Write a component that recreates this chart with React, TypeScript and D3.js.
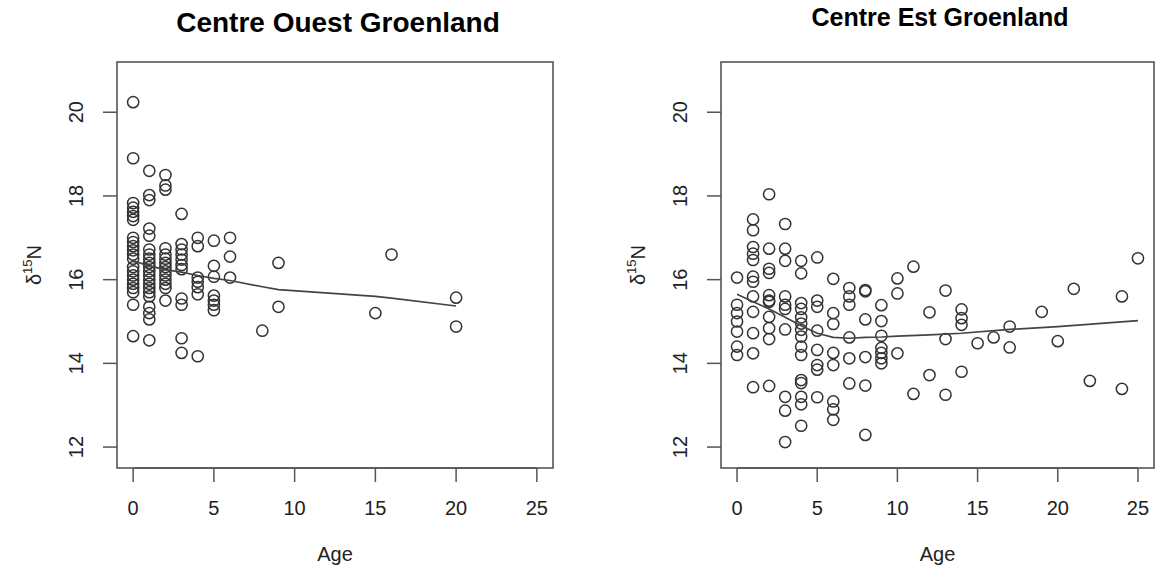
import React from "react";
import * as d3 from "d3";

// Centre Ouest Groenland: [age, d15N]
const westAges = [0, 0, 0, 0, 0, 0, 0, 0, 0, 0, 0, 0, 0, 0, 0, 0, 0, 0, 0, 0, 0, 0,
  1, 1, 1, 1, 1, 1, 1, 1, 1, 1, 1, 1, 1, 1, 1, 1, 1, 1, 1, 1, 1,
  2, 2, 2, 2, 2, 2, 2, 2, 2, 2, 2, 2, 2, 2,
  3, 3, 3, 3, 3, 3, 3, 3, 3, 3, 3,
  4, 4, 4, 4, 4, 4, 4,
  5, 5, 5, 5, 5, 5, 5,
  6, 6, 6,
  8, 9, 9, 15, 16, 20, 20];
const westN = [20.24, 18.9, 17.83, 17.72, 17.62, 17.52, 17.43, 17.0, 16.9, 16.8, 16.7, 16.6, 16.5, 16.3, 16.2, 16.1, 16.0, 15.9, 15.8, 15.7, 15.4, 14.65,
  18.6, 18.02, 17.9, 17.22, 17.05, 16.72, 16.6, 16.5, 16.4, 16.3, 16.2, 16.1, 16.0, 15.9, 15.8, 15.7, 15.6, 15.35, 15.2, 15.05, 14.55,
  18.5, 18.25, 18.15, 16.75, 16.6, 16.5, 16.4, 16.3, 16.2, 16.1, 16.0, 15.9, 15.8, 15.5,
  17.57, 16.85, 16.72, 16.6, 16.48, 16.35, 16.25, 15.55, 15.4, 14.6, 14.25,
  17.0, 16.8, 16.05, 15.95, 15.82, 15.65, 14.17,
  16.93, 16.33, 16.07, 15.62, 15.5, 15.4, 15.27,
  17.0, 16.55, 16.05,
  14.78, 16.4, 15.35, 15.2, 16.6, 15.57, 14.88];
const westSmoothAge = [0, 1, 2, 3, 4, 5, 6, 8, 9, 15, 16, 20];
const westSmoothN = [16.45, 16.33, 16.24, 16.18, 16.1, 16.03, 15.98, 15.83, 15.76, 15.6, 15.56, 15.37];

// Centre Est Groenland: [age, d15N]
const eastAges = [0, 0, 0, 0, 0, 0, 0,
  1, 1, 1, 1, 1, 1, 1, 1, 1, 1, 1, 1,
  2, 2, 2, 2, 2, 2, 2, 2, 2, 2, 2,
  3, 3, 3, 3, 3, 3, 3, 3, 3, 3,
  4, 4, 4, 4, 4, 4, 4, 4, 4, 4, 4, 4, 4, 4, 4,
  5, 5, 5, 5, 5, 5, 5, 5,
  6, 6, 6, 6, 6, 6, 6, 6,
  7, 7, 7, 7, 7, 7,
  8, 8, 8, 8, 8, 8,
  9, 9, 9, 9, 9, 9, 9,
  10, 10, 10, 11, 11, 12, 12, 13, 13, 13, 14, 14, 14, 14,
  15, 16, 17, 17, 19, 20, 21, 22, 24, 24, 25];
const eastN = [16.05, 15.4, 15.2, 15.0, 14.76, 14.4, 14.2,
  17.44, 17.18, 16.78, 16.62, 16.47, 16.07, 15.95, 15.6, 15.23, 14.72, 14.24, 13.43,
  18.04, 16.74, 16.26, 16.16, 15.63, 15.5, 15.47, 15.11, 14.84, 14.58, 13.46,
  17.33, 16.74, 16.45, 15.6, 15.4, 15.3, 14.81, 13.2, 12.87, 12.12,
  16.45, 16.15, 15.44, 15.3, 15.1, 14.95, 14.8, 14.64, 14.4, 14.2, 13.6, 13.53, 13.2, 13.02, 12.51,
  16.53, 15.5, 15.35, 14.78, 14.32, 13.96, 13.85, 13.19,
  16.02, 15.2, 14.94, 14.25, 13.96, 13.09, 12.9, 12.65,
  15.8, 15.6, 15.4, 14.62, 14.12, 13.52,
  15.75, 15.72, 15.05, 14.15, 13.47, 12.29,
  15.39, 15.01, 14.66, 14.37, 14.25, 14.12, 14.0,
  16.03, 15.67, 14.24, 16.31, 13.27, 15.22, 13.72, 15.74, 14.58, 13.25, 15.29, 15.08, 14.92, 13.8,
  14.48, 14.62, 14.88, 14.38, 15.23, 14.53, 15.78, 13.58, 15.6, 13.39, 16.51];
const eastSmoothAge = [0, 1, 2, 3, 4, 5, 6, 7, 8, 9, 10, 12, 14, 17, 20, 25];
const eastSmoothN = [15.65, 15.47, 15.3, 15.1, 14.9, 14.72, 14.62, 14.6, 14.62, 14.63, 14.65, 14.68, 14.72, 14.81, 14.88, 15.02];

const xTicks = [0, 5, 10, 15, 20, 25];
const yTicks = [12, 14, 16, 18, 20];
const xLimits = [-1, 26];
const yLimits = [11.5, 21.2];

const FONT = "'Liberation Sans', Arial, Helvetica, sans-serif";

type PanelProps = {
  title: string;
  ages: number[];
  values: number[];
  smoothAge: number[];
  smoothN: number[];
  left: number;
  right: number;
  titleY: number;
  titleX: number;
  titleSize: number;
};

function Panel({ title, ages, values, smoothAge, smoothN, left, right, titleY, titleX, titleSize }: PanelProps) {
  const top = 62;
  const bottom = 468;
  const x = d3.scaleLinear().domain(xLimits).range([left, right]);
  const y = d3.scaleLinear().domain(yLimits).range([bottom, top]);
  const line = d3
    .line<number>()
    .x((_, i) => x(smoothAge[i]))
    .y((d) => y(d));
  const tickLen = 14;
  const stroke = "#333";
  const ylabX = left - 76;
  const ylabY = (top + bottom) / 2;
  return (
    <g>
      <text x={titleX} y={titleY} textAnchor="middle" fontFamily={FONT} fontWeight="bold" fontSize={titleSize} fill="#000">
        {title}
      </text>
      <rect x={left} y={top} width={right - left} height={bottom - top} fill="none" stroke="#555" strokeWidth={1.6} />
      {/* x axis */}
      <line x1={x(xTicks[0])} x2={x(xTicks[xTicks.length - 1])} y1={bottom} y2={bottom} stroke="#555" strokeWidth={1.6} />
      {xTicks.map((t) => (
        <g key={"x" + t}>
          <line x1={x(t)} x2={x(t)} y1={bottom} y2={bottom + tickLen} stroke="#555" strokeWidth={1.5} />
          <text x={x(t)} y={bottom + 47} textAnchor="middle" fontFamily={FONT} fontSize={20} fill="#222">
            {t}
          </text>
        </g>
      ))}
      <text x={(left + right) / 2} y={bottom + 93} textAnchor="middle" fontFamily={FONT} fontSize={20} fill="#222">
        Age
      </text>
      {/* y axis */}
      {yTicks.map((t) => (
        <g key={"y" + t}>
          <line x1={left - tickLen} x2={left} y1={y(t)} y2={y(t)} stroke="#555" strokeWidth={1.5} />
          <text
            transform={`translate(${left - 34},${y(t)}) rotate(-90)`}
            textAnchor="middle"
            fontFamily={FONT}
            fontSize={20}
            fill="#222"
          >
            {t}
          </text>
        </g>
      ))}
      <text transform={`translate(${ylabX},${ylabY}) rotate(-90)`} textAnchor="middle" fontFamily={FONT} fontSize={20} fill="#222">
        δ<tspan dy={-9} fontSize={13}>15</tspan>
        <tspan dy={9}>N</tspan>
      </text>
      {/* points */}
      {ages.map((a, i) => (
        <circle key={i} cx={x(a)} cy={y(values[i])} r={5.6} fill="none" stroke={stroke} strokeWidth={1.5} />
      ))}
      <path d={line(smoothN) || ""} fill="none" stroke="#444" strokeWidth={1.7} />
    </g>
  );
}

export default function App() {
  return (
    <svg width={1157} height={572} style={{ position: "absolute", left: 0, top: 0, background: "#fff" }}>
      <rect x={0} y={0} width={1157} height={572} fill="#fff" />
      <Panel
        title="Centre Ouest Groenland"
        ages={westAges}
        values={westN}
        smoothAge={westSmoothAge}
        smoothN={westSmoothN}
        left={117}
        right={553}
        titleX={338}
        titleY={32}
        titleSize={28}
      />
      <Panel
        title="Centre Est Groenland"
        ages={eastAges}
        values={eastN}
        smoothAge={eastSmoothAge}
        smoothN={eastSmoothN}
        left={721}
        right={1154}
        titleX={940}
        titleY={26}
        titleSize={25}
      />
    </svg>
  );
}
